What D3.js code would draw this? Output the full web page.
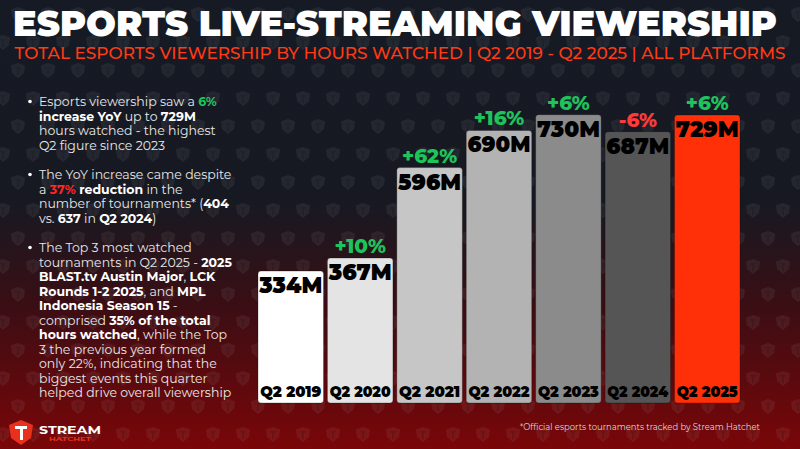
<!DOCTYPE html>
<html lang="en">
<head>
<meta charset="utf-8">
<title>Esports Live-Streaming Viewership</title>
<script src="https://cdn.jsdelivr.net/npm/d3@7"></script>
<style>
  body { margin: 0; background: #151a24; }
  svg { display: block; }
</style>
</head>
<body>
<script>
// ---- data ----
var quarters = ["Q2 2019", "Q2 2020", "Q2 2021", "Q2 2022", "Q2 2023", "Q2 2024", "Q2 2025"];
var hoursM   = [334, 367, 596, 690, 730, 687, 729];
var valueLabels = ["334M", "367M", "596M", "690M", "730M", "687M", "729M"];
var yoyLabels = [null, "+10%", "+62%", "+16%", "+6%", "-6%", "+6%"];
var barColors = ["#ffffff", "#e4e4e4", "#c6c6c6", "#b3b3b3", "#8b8b8b", "#555555", "#ff3008"];

var title = "ESPORTS LIVE-STREAMING VIEWERSHIP";
var subtitle = "TOTAL ESPORTS VIEWERSHIP BY HOURS WATCHED | Q2 2019 - Q2 2025 | ALL PLATFORMS";
var footnote = "*Official esports tournaments tracked by Stream Hatchet";

// bullet lines: [text, style]  n = normal, b = bold, g = green bold, r = red bold
var bullets = [
  [
    [["Esports viewership saw a ", "n"], ["6%", "g"]],
    [["increase YoY", "b"], [" up to ", "n"], ["729M", "b"]],
    [["hours watched - the highest", "n"]],
    [["Q2 figure since 2023", "n"]]
  ],
  [
    [["The YoY increase came despite", "n"]],
    [["a ", "n"], ["37%", "r"], [" reduction", "b"], [" in the", "n"]],
    [["number of tournaments* (", "n"], ["404", "b"]],
    [["vs. ", "n"], ["637", "b"], [" in ", "n"], ["Q2 2024", "b"], [")", "n"]]
  ],
  [
    [["The Top 3 most watched", "n"]],
    [["tournaments in Q2 2025 - ", "n"], ["2025", "b"]],
    [["BLAST.tv Austin Major", "b"], [", ", "n"], ["LCK", "b"]],
    [["Rounds 1-2 2025", "b"], [", and ", "n"], ["MPL", "b"]],
    [["Indonesia Season 15", "b"], [" -", "n"]],
    [["comprised ", "n"], ["35% of the total", "b"]],
    [["hours watched", "b"], [", while the Top", "n"]],
    [["3 the previous year formed", "n"]],
    [["only 22%, indicating that the", "n"]],
    [["biggest events this quarter", "n"]],
    [["helped drive overall viewership", "n"]]
  ]
];
var bulletStart = [106, 179, 252];

var W = 800, H = 449;
var heavy = "Montserrat, Inter, 'Open Sans', sans-serif";
var body = "Montserrat, 'Open Sans', Lato, sans-serif";

var svg = d3.select("body").append("svg")
    .attr("width", W)
    .attr("height", H);

var defs = svg.append("defs");

var bg = defs.append("linearGradient")
    .attr("id", "bg").attr("x1", 0).attr("y1", 0).attr("x2", 0).attr("y2", 1);
bg.append("stop").attr("offset", "0%").attr("stop-color", "#151a24");
bg.append("stop").attr("offset", "45%").attr("stop-color", "#171922");
bg.append("stop").attr("offset", "68%").attr("stop-color", "#3a0e14");
bg.append("stop").attr("offset", "100%").attr("stop-color", "#7a0608");

// faint shield pattern
var shield = "M0,-7 L7,-4.5 L6,3 L0,8 L-6,3 L-7,-4.5 Z";
var pat = defs.append("pattern")
    .attr("id", "shields")
    .attr("patternUnits", "userSpaceOnUse")
    .attr("width", 30).attr("height", 56)
    .attr("x", 3).attr("y", 0);
[[15, 14], [0, 42], [30, 42]].forEach(function (p) {
  var g = pat.append("g").attr("transform", "translate(" + p[0] + "," + p[1] + ")");
  g.append("path").attr("d", shield).attr("fill", "#ffffff").attr("opacity", 0.06);
  g.append("path").attr("d", "M-3,-3 L3,-3 L3,-1.5 L1,-1.5 L1,5 L-1,5 L-1,-1.5 L-3,-1.5 Z")
      .attr("fill", "#000000").attr("opacity", 0.12);
});

svg.append("rect").attr("width", W).attr("height", H).attr("fill", "url(#bg)");
svg.append("rect").attr("width", W).attr("height", H).attr("fill", "url(#shields)");

// ---- titles ----
svg.append("text")
    .attr("x", 395).attr("y", 36)
    .attr("text-anchor", "middle")
    .attr("textLength", 764).attr("lengthAdjust", "spacingAndGlyphs")
    .attr("font-family", heavy).attr("font-weight", 900).attr("font-size", 35)
    .attr("fill", "#ffffff")
    .text(title);

svg.append("text")
    .attr("x", 400).attr("y", 59)
    .attr("text-anchor", "middle")
    .attr("textLength", 771).attr("lengthAdjust", "spacingAndGlyphs")
    .attr("font-family", body).attr("font-weight", 500).attr("font-size", 16)
    .attr("fill", "#ff3a14")
    .text(subtitle);

// ---- bullets ----
var styles = {
  n: {w: 400, c: "#e8e8e8"},
  b: {w: 700, c: "#ffffff"},
  g: {w: 700, c: "#1fc35c"},
  r: {w: 700, c: "#ff2626"}
};
var lh = 14.5;
bullets.forEach(function (lines, i) {
  var y0 = bulletStart[i];
  svg.append("circle").attr("cx", 30).attr("cy", y0 - 4.5).attr("r", 1.8).attr("fill", "#ffffff");
  lines.forEach(function (segs, j) {
    var t = svg.append("text")
        .attr("x", 39).attr("y", y0 + j * lh)
        .attr("font-family", body).attr("font-size", 12.5);
    segs.forEach(function (s) {
      t.append("tspan")
          .attr("font-weight", styles[s[1]].w)
          .attr("fill", styles[s[1]].c)
          .style("white-space", "pre")
          .text(s[0]);
    });
  });
});

// ---- bars ----
var x = d3.scaleBand()
    .domain(quarters)
    .range([258, 740])
    .paddingInner(0.056)
    .paddingOuter(0);

var y = d3.scaleLinear()
    .domain([0, 1000])
    .range([403, 8]);

var data = quarters.map(function (q, i) {
  return {q: q, v: hoursM[i], label: valueLabels[i], yoy: yoyLabels[i], color: barColors[i]};
});

var bars = svg.append("g").selectAll("g")
    .data(data)
    .enter().append("g");

bars.append("rect")
    .attr("x", function (d) { return x(d.q); })
    .attr("y", function (d) { return y(d.v); })
    .attr("width", x.bandwidth())
    .attr("height", function (d) { return y(0) - y(d.v); })
    .attr("rx", 3)
    .attr("fill", function (d) { return d.color; })
    .attr("stroke", "rgba(0,0,0,0.25)")
    .attr("stroke-width", 1);

bars.append("text")
    .attr("x", function (d) { return x(d.q) + x.bandwidth() / 2; })
    .attr("y", function (d) { return y(d.v) + 22; })
    .attr("text-anchor", "middle")
    .attr("textLength", 63).attr("lengthAdjust", "spacingAndGlyphs")
    .attr("font-family", heavy).attr("font-weight", 900).attr("font-size", 23)
    .attr("fill", "#000000")
    .text(function (d) { return d.label; });

bars.filter(function (d) { return d.yoy; }).append("text")
    .attr("x", function (d) { return x(d.q) + x.bandwidth() / 2; })
    .attr("y", function (d) { return y(d.v) - 5; })
    .attr("text-anchor", "middle")
    .attr("font-family", heavy).attr("font-weight", 800).attr("font-size", 20)
    .attr("fill", function (d) { return d.yoy.charAt(0) === "-" ? "#ff3a3a" : "#1fc35c"; })
    .text(function (d) { return d.yoy; });

bars.append("text")
    .attr("x", function (d) { return x(d.q) + x.bandwidth() / 2; })
    .attr("y", 397)
    .attr("text-anchor", "middle")
    .attr("textLength", 61).attr("lengthAdjust", "spacingAndGlyphs")
    .attr("font-family", heavy).attr("font-weight", 900).attr("font-size", 16)
    .attr("fill", "#000000")
    .text(function (d) { return d.q; });

// ---- footnote ----
svg.append("text")
    .attr("x", 760).attr("y", 430)
    .attr("text-anchor", "end")
    .attr("textLength", 240).attr("lengthAdjust", "spacingAndGlyphs")
    .attr("font-family", body).attr("font-size", 9)
    .attr("fill", "#d8d8d8")
    .text(footnote);

// ---- logo ----
var logo = svg.append("g").attr("transform", "translate(21,432)");
logo.append("path")
    .attr("d", "M0,-12 L12,-7 L10,6 L0,13 L-10,6 L-12,-7 Z")
    .attr("fill", "#e8301c");
logo.append("path")
    .attr("d", "M-6,-6 L6,-6 L6,-3 L2,-3 L2,8 L-1,8 L-1,-3 L-6,-3 Z")
    .attr("fill", "#ffffff");
svg.append("text")
    .attr("x", 39).attr("y", 434)
    .attr("textLength", 62).attr("lengthAdjust", "spacingAndGlyphs")
    .attr("font-family", heavy).attr("font-weight", 700).attr("font-size", 10)
    .attr("fill", "#ffffff")
    .text("STREAM");
svg.append("text")
    .attr("x", 49).attr("y", 441)
    .attr("textLength", 42).attr("lengthAdjust", "spacingAndGlyphs")
    .attr("font-family", heavy).attr("font-weight", 700).attr("font-size", 5)
    .attr("fill", "#e8301c")
    .text("HATCHET");
</script>
</body>
</html>
